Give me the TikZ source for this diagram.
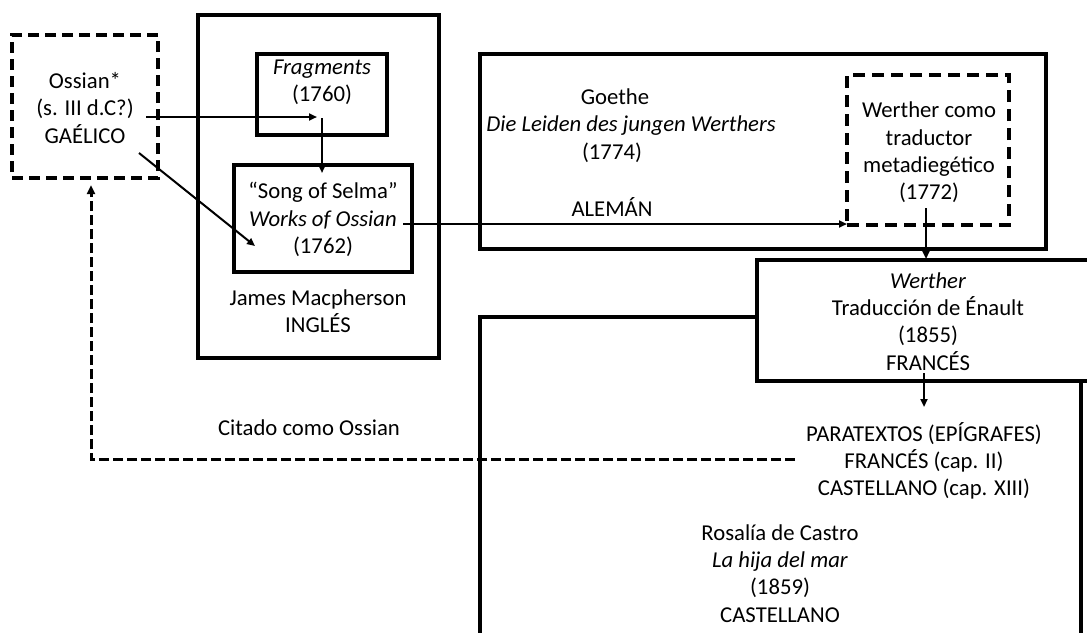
\documentclass[tikz,border=0pt]{standalone}
\usepackage{fontspec}
\setmainfont{Carlito}
\usetikzlibrary{arrows.meta}
\begin{document}
\begin{tikzpicture}[x=1pt,y=-1pt,
  frame/.style={draw=black, line width=3.2pt, inner sep=0pt},
  dframe/.style={frame, dash pattern=on 11pt off 6pt},
  lbl/.style={align=center, inner sep=0pt, font=\fontsize{22.7}{27.3}\selectfont},
  conn/.style={line width=2pt, -{Triangle[length=8pt,width=7pt]}},
  dconn/.style={line width=3pt, dash pattern=on 10pt off 4pt, -{Triangle[length=9pt,width=8pt]}}
]
\useasboundingbox (0,0) rectangle (1087,632);

% frames
\node[dframe, minimum width=146pt, minimum height=143pt] (ossian) at (85,106.5) {};
\node[frame, minimum width=241pt, minimum height=343pt] (macpherson) at (318.5,186.5) {};
\node[frame, minimum width=130pt, minimum height=81pt] (fragments) at (322,94.5) {};
\node[frame, minimum width=178pt, minimum height=107pt] (selma) at (323,218.5) {};
\node[frame, minimum width=566pt, minimum height=195pt] (goethe) at (763,151.5) {};
\node[dframe, dash pattern=on 12pt off 7pt, minimum width=162pt, minimum height=150pt] (wtrad) at (928,150) {};
\node[frame, minimum width=601pt, minimum height=343pt] (rosalia) at (780.5,488.5) {};
\node[frame, fill=white, minimum width=343pt, minimum height=121pt] (enault) at (928.5,320.5) {};

% texts
\node[lbl] (ossiantxt) at (85,108) {Ossian*\\(s. III d.C?)\\GAÉLICO};
\node[lbl] (fragtxt) at (322,82) {\textit{Fragments}\\(1760)};
\node[lbl] (selmatxt) at (323,219.5) {“Song of Selma”\\\textit{Works of Ossian}\\(1762)};
\node[lbl] (mactxt) at (318,311) {James Macpherson\\INGLÉS};
\node[lbl] (goethetxt) at (631,125.5) {Goethe\hspace*{32pt}\\\textit{Die Leiden des jungen Werthers}\\(1774)\hspace*{38pt}};
\node[lbl] (alemantxt) at (612,207) {ALEMÁN};
\node[lbl] (wtradtxt) at (929,152.5) {Werther como\\traductor\\metadiegético\\(1772)};
\node[lbl] (enaulttxt) at (928,321.5) {\textit{Werther}\\Traducción de Énault\\(1855)\\FRANCÉS};
\node[lbl] (paratxt) at (924,461) {PARATEXTOS (EPÍGRAFES)\\FRANCÉS (cap. II)\\CASTELLANO (cap. XIII)};
\node[lbl] (rosaliatxt) at (780,573.5) {Rosalía de Castro\\\textit{La hija del mar}\\(1859)\\CASTELLANO};
\node[lbl] (citadotxt) at (309,428) {Citado como Ossian};

% connector ends
\coordinate (o1) at (146,117);
\coordinate (f1) at (317,117);
\coordinate (f2) at (322,118);
\coordinate (s1) at (322,173);
\coordinate (o2) at (139,153);
\coordinate (s2) at (255,246);
\coordinate (s3) at (403,224);
\coordinate (w1) at (847,224);
\coordinate (w2) at (926,208);
\coordinate (e1) at (926,259);
\coordinate (e2) at (924,373);
\coordinate (p1) at (924,407);
\coordinate (p2) at (795,459);
\coordinate (o3) at (91,185);

% connectors
\draw[conn] (o1) -- (f1);
\draw[conn] (f2) -- (s1);
\draw[conn] (o2) -- (s2);
\draw[conn] (s3) -- (w1);
\draw[conn] (w2) -- (e1);
\draw[conn] (e2) -- (p1);
\draw[dconn] (p2) -| (o3);
\end{tikzpicture}
\end{document}
